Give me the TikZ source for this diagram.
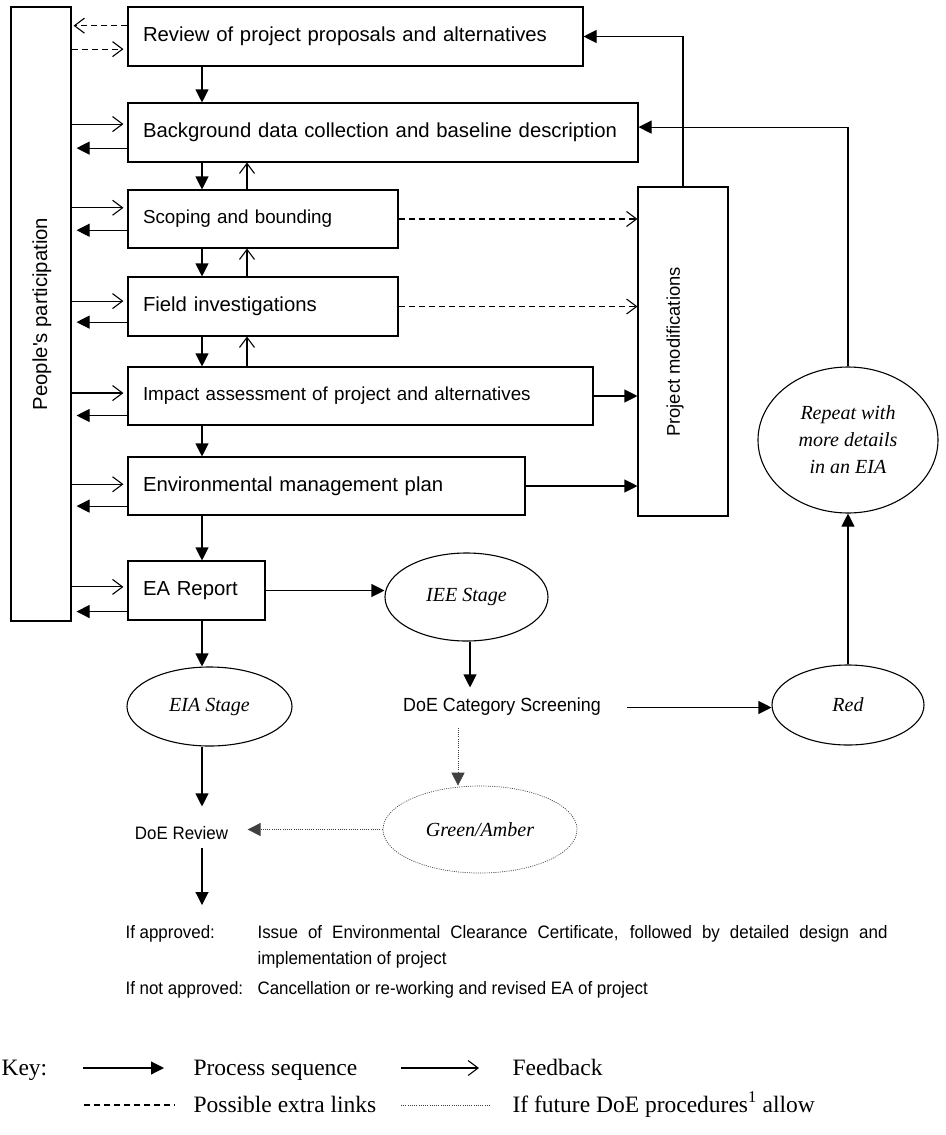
\documentclass[tikz,border=0pt]{standalone}
\usepackage{fontspec}
\setmainfont{Liberation Serif}
\newfontfamily\sansf{Liberation Sans}
\newfontfamily\sansn[FakeStretch=0.94]{Liberation Sans}
\usetikzlibrary{arrows.meta,shapes.geometric,calc}

\begin{document}
\begin{tikzpicture}[x=1pt,y=-1pt,
  line width=1.1pt,
  every node/.style={inner sep=0pt},
  seq/.style={-{Triangle[length=13pt,width=13pt]}},
  fb/.style={-{Straight Barb[length=10pt,width=15pt]}},
  extra/.style={dash pattern=on 6pt off 4pt},
  maybe/.style={line width=0.7pt, dash pattern=on 1pt off 1.2pt, draw=black!75},
  stepbox/.style={draw, inner xsep=15pt, inner ysep=0pt, align=left,
    font=\sansf\fontsize{20.3}{24}\selectfont},
  smalltext/.style={font=\sansf\fontsize{18.8}{22}\selectfont},
  stage/.style={draw, ellipse, align=center, font=\itshape\fontsize{20}{27}\selectfont},
  plain/.style={font=\sansn\fontsize{18}{20}\selectfont},
  keyf/.style={font=\fontsize{23.5}{26}\selectfont}
]
\useasboundingbox (0,0) rectangle (945,1135);
\fill[white] (0,0) rectangle (945,1135);

% lanes for the vertical arrows between the steps
\coordinate (dx) at (202,0);
\coordinate (ux) at (247,0);
\coordinate (ix) at (470,0);
\coordinate (gx) at (458,0);

% participation column
\node[draw, minimum width=60pt, minimum height=614pt] (pp) at (41,314) {};
\node[rotate=90, font=\sansf\fontsize{20.3}{24}\selectfont] (ppl) at (42,314) {People's participation};

% assessment steps
\node[stepbox, text width=425pt, minimum height=59pt] (rv) at (355.5,36.5) {Review of project proposals and alternatives};
\node[stepbox, text width=480pt, minimum height=59pt] (bg) at (383,132.5) {Background data collection and baseline description};
\node[stepbox, smalltext, text width=240pt, minimum height=58pt] (sc) at (263,219) {Scoping and bounding};
\node[stepbox, text width=240pt, minimum height=59pt] (fi) at (263,306.5) {Field investigations};
\node[stepbox, smalltext, text width=435pt, minimum height=58pt] (im) at (360.5,396) {Impact assessment of project and alternatives};
\node[stepbox, text width=367pt, minimum height=58pt] (en) at (326.5,486) {Environmental management plan};
\node[stepbox, text width=107pt, minimum height=59pt] (ea) at (196.5,590.5) {EA Report};

% project modifications column
\node[draw, minimum width=90pt, minimum height=329pt] (pm) at (683,351.5) {};
\node[rotate=90, font=\sansf\fontsize{18.4}{22}\selectfont] (pml) at (675,352) {Project modifications};

% stages and outcomes
\node[stage, minimum width=180pt, minimum height=146pt] (rep) at (848,440) {Repeat with\\more details\\in an EIA};
\node[stage, minimum width=152pt, minimum height=80pt] (red) at (848,705) {Red};
\node[stage, minimum width=163pt, minimum height=88pt] (iee) at (466.5,597) {IEE Stage};
\node[stage, minimum width=165pt, minimum height=79pt] (eia) at (209.5,706.5) {EIA Stage};
\node[stage, maybe, minimum width=194pt, minimum height=87pt] (ga) at (480,829.5) {Green/Amber};

\node[font=\sansn\fontsize{19}{20}\selectfont, text height=23pt, text depth=16pt,
  inner xsep=26pt, anchor=base] (scr) at (502,711) {DoE Category Screening};
\node[plain, text height=32pt, text depth=8pt, inner xsep=19pt, anchor=base] (dr) at (181.5,839) {DoE Review};
\coordinate (outc) at (202,905);

% process sequence down the steps
\foreach \a/\b in {rv/bg, bg/sc, sc/fi, fi/im, im/en, en/ea}
  \draw[seq] (\a.south -| dx) -- (\b.north -| dx);
% feedback up the steps
\foreach \a/\b in {sc/bg, fi/sc, im/fi}
  \draw[fb] (\a.north -| ux) -- (\b.south -| ux);

% links with people's participation
\coordinate (rv-a) at ($(rv.north west)!0.32!(rv.south west)$);
\coordinate (rv-b) at ($(rv.north west)!0.71!(rv.south west)$);
\draw[fb, extra, shorten >=2pt] (rv-a) -- (pp.east |- rv-a);
\draw[fb, extra, shorten >=4pt] (pp.east |- rv-b) -- (rv-b);
\foreach \b/\i/\o in {bg/0.36/0.76, sc/0.31/0.69, fi/0.41/0.76, im/0.45/0.83, en/0.47/0.84, ea/0.44/0.85} {
  \coordinate (\b-in) at ($(\b.north west)!\i!(\b.south west)$);
  \coordinate (\b-out) at ($(\b.north west)!\o!(\b.south west)$);
  \draw[fb, shorten >=4pt] (pp.east |- \b-in) -- (\b-in);
  \draw[seq, shorten >=5pt] (\b-out) -- (pp.east |- \b-out);
}

% links with project modifications
\draw[fb, extra] (sc.east) -- (sc.east -| pm.west);
\draw[fb, extra] (fi.east) -- (fi.east -| pm.west);
\draw[seq] (im.east) -- (im.east -| pm.west);
\draw[seq] (en.east) -- (en.east -| pm.west);
\draw[seq] (pm.north) |- (rv.east);
\coordinate (bg-r) at ($(bg.north east)!0.41!(bg.south east)$);
\draw[seq] (rep.north) |- (bg-r);

% screening branches
\draw[seq] (ea.east) -- (ea.east -| iee.west);
\draw[seq] (ea.south -| dx) -- (eia.north -| dx);
\draw[seq] (iee.south -| ix) -- (scr.north -| ix);
\draw[seq] (scr.east) -- (scr.east -| red.west);
\draw[seq] (red.north) -- (rep.south);
\draw[maybe, seq] (scr.south -| gx) -- (ga.north -| gx);
\draw[maybe, seq] (ga.west) -- (ga.west -| dr.east);
\draw[seq] (eia.south -| dx) -- (dr.north -| dx);
\draw[seq] (dr.south -| dx) -- (outc);

% decision outcomes
\node[plain, anchor=base west] (ifa) at (125,938) {If approved:};
\node[plain, anchor=base west] (ifa-t) at (257,938) {\makebox[630pt][s]{Issue of Environmental Clearance Certificate, followed by detailed design and}};
\node[plain, anchor=base west] (ifa-t2) at (257,964) {implementation of project};
\node[plain, anchor=base west] (ifn) at (125,994) {If not approved:};
\node[plain, anchor=base west] (ifn-t) at (257,994) {Cancellation or re-working and revised EA of project};

% key
\node[keyf, anchor=base west] (key) at (1,1075) {Key:};
\coordinate (k1s) at (83,1068);
\coordinate (k1e) at (164,1068);
\draw[seq] (k1s) -- (k1e);
\node[keyf, anchor=base west] (kps) at (193,1075) {Process sequence};
\coordinate (k2s) at (401,1068);
\coordinate (k2e) at (479,1068);
\draw[fb] (k2s) -- (k2e);
\node[keyf, anchor=base west] (kfb) at (512,1075) {Feedback};
\coordinate (k3s) at (84,1105);
\coordinate (k3e) at (175,1105);
\draw[extra] (k3s) -- (k3e);
\node[keyf, anchor=base west] (kpe) at (193,1112) {Possible extra links};
\coordinate (k4s) at (401,1105);
\coordinate (k4e) at (491,1105);
\draw[maybe] (k4s) -- (k4e);
\node[keyf, anchor=base west] (kdo) at (512,1112) {If future DoE procedures\textsuperscript{1} allow};
\end{tikzpicture}
\end{document}
